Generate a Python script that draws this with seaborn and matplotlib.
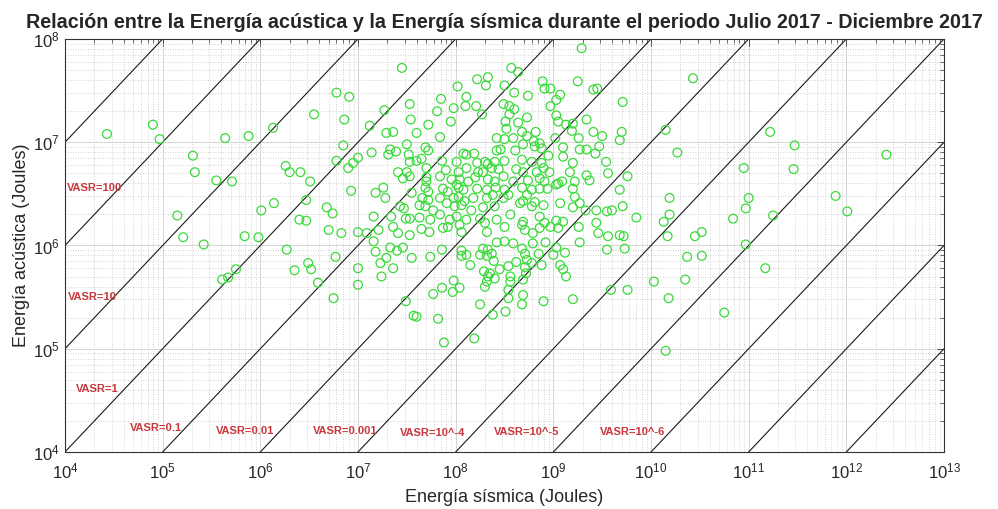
import numpy as np
import pandas as pd
import matplotlib
matplotlib.use("Agg")
import matplotlib.pyplot as plt
import seaborn as sns
from matplotlib.ticker import LogLocator, LogFormatterSciNotation, NullFormatter

# Events: log10 of the seismic energy and of the acoustic energy (Joules)
seismic_log10 = [
    4.43, 4.90, 4.97, 5.31, 5.33, 5.55, 5.71, 5.64, 5.88, 6.13, 6.55, 6.78, 6.91, 6.86, 6.85, 6.78,
    6.90, 6.95, 7.00, 6.93, 6.26, 6.30, 6.41, 6.51, 6.47, 6.01, 6.14, 5.15, 5.21, 5.42, 5.84, 5.98,
    6.40, 6.47, 6.68, 6.74, 6.70, 6.83, 7.00,
    6.27, 6.35, 6.49, 6.52, 6.59, 6.77, 6.75, 7.00, 7.00, 5.61, 5.67, 5.75,
    9.29, 7.45, 8.57, 8.64, 8.22, 8.33, 8.31, 8.50, 8.89, 9.25, 8.91, 8.97, 9.41, 9.45, 8.02, 8.11,
    7.85, 8.60, 8.74, 9.07, 9.03,
    7.27, 7.53, 8.10, 8.21, 8.49, 8.55, 8.60, 8.97, 9.71,
    7.81, 7.98, 8.27, 8.55, 8.73, 9.03, 9.05, 9.34,
    7.54, 7.95, 7.72, 8.51, 8.64, 9.13, 9.20, 7.12, 9.19,
    7.29, 7.36, 7.60, 7.84, 8.52, 8.68, 8.82, 9.41, 9.70, 9.50, 9.68,
    8.42, 8.50, 8.59, 8.73, 8.80, 8.86, 9.02, 9.26, 7.50, 8.69,
    7.33, 7.39, 7.69, 7.72, 8.08, 8.11, 8.19, 8.42, 8.46, 8.61, 8.81, 8.88, 9.10, 9.27, 9.34, 9.43, 9.47,
    7.14, 7.31, 7.52, 7.53, 7.60, 7.65, 7.86, 8.01, 8.22, 8.30, 8.33, 8.40, 8.50, 8.68, 8.78, 8.88,
    8.95, 9.10, 9.20, 9.54,
    7.41, 7.50, 7.70, 7.90, 8.03, 8.11, 8.23, 8.28, 8.37, 8.44, 8.62, 8.69, 8.83, 8.90, 8.96, 9.17,
    9.34, 9.56, 9.76,
    7.46, 7.53, 7.70, 7.70, 7.84, 7.96, 8.01, 8.04, 8.13, 8.20, 8.33, 8.40, 8.49, 8.59, 8.74, 8.86,
    8.91, 9.05, 9.09, 9.22, 9.37,
    7.26, 7.18, 7.55, 7.69, 7.72, 7.87, 7.92, 8.03, 8.08, 8.22, 8.32, 8.41, 8.50, 8.68, 8.78, 8.86,
    8.94, 9.03, 9.20, 9.68,
    7.28, 7.66, 7.72, 7.84, 7.98, 8.03, 8.09, 8.18, 8.32, 8.38, 8.49, 8.54, 8.69, 8.73, 8.81, 9.22,
    7.43, 7.47, 7.63, 7.69, 7.77, 7.91, 7.99, 8.06, 8.16, 8.28, 8.40, 8.66, 8.78, 8.90, 9.07, 9.20,
    9.27, 9.33, 9.44, 9.55, 9.60, 9.71,
    7.16, 7.34, 7.49, 7.53, 7.63, 7.74, 7.84, 7.94, 8.01, 8.11, 8.25, 8.42, 8.56, 8.69, 8.86, 8.91,
    9.03, 9.10, 9.44, 9.85,
    7.09, 7.21, 7.36, 7.41, 7.53, 7.65, 7.73, 7.87, 7.92, 8.04, 8.06, 8.30, 8.32, 8.50, 8.68, 8.71,
    8.79, 8.86, 8.97, 9.05, 9.26, 9.46, 9.56, 9.68, 9.72,
    7.16, 7.33, 7.40, 7.46, 7.18, 7.29, 7.23, 7.36, 7.24, 7.55, 7.74, 7.86, 8.06, 8.11, 8.06, 8.25,
    8.28, 8.33, 8.32, 8.37, 8.39, 8.42, 8.50, 8.59,
    8.15, 8.29, 8.35, 8.45, 8.54, 8.62, 8.68, 8.71, 8.73, 8.71, 8.78, 8.85, 8.88, 9.00, 9.03, 9.12,
    9.07, 9.10, 8.79, 8.92, 9.27, 9.55, 9.73,
    8.33, 8.40, 8.32, 8.30, 8.56, 8.56, 8.69, 8.72, 9.13, 7.98, 8.04, 7.97, 7.86, 7.77, 8.54, 8.54,
    8.69, 8.68, 8.90, 9.20, 9.59, 9.76, 7.49, 8.25, 7.57, 7.60, 7.82, 8.38, 8.51, 8.19, 7.88,
    10.43, 10.15, 10.27, 11.22, 11.47, 12.41, 10.95, 11.46, 10.19, 11.00, 10.97, 11.89, 12.01, 10.19,
    10.13, 10.84, 11.25, 10.17, 10.45, 10.52, 10.97,
    10.37, 10.52, 11.17, 10.03, 10.35, 10.18, 10.75, 10.15,
]
acoustic_log10 = [
    7.08, 7.17, 7.03, 6.87, 6.71, 6.63, 6.62, 7.04, 7.06, 7.14, 7.27, 7.48, 7.44, 7.22, 6.97, 6.82,
    6.75, 6.80, 6.85, 6.53, 6.77, 6.71, 6.71, 6.62, 6.44, 6.34, 6.41, 6.29, 6.08, 6.01, 6.09, 6.08,
    6.25, 6.24, 6.37, 6.31, 6.15, 6.12, 6.13,
    5.96, 5.76, 5.83, 5.77, 5.64, 5.89, 5.49, 5.78, 5.62, 5.67, 5.69, 5.77,
    7.91, 7.72, 7.72, 7.68, 7.61, 7.63, 7.55, 7.55, 7.59, 7.59, 7.52, 7.52, 7.51, 7.52, 7.54, 7.44,
    7.42, 7.48, 7.45, 7.46, 7.41,
    7.31, 7.37, 7.35, 7.35, 7.37, 7.35, 7.32, 7.35, 7.39,
    7.30, 7.33, 7.27, 7.27, 7.24, 7.26, 7.20, 7.22,
    7.22, 7.20, 7.17, 7.20, 7.19, 7.17, 7.18, 7.16, 7.11,
    7.09, 7.10, 7.09, 7.05, 7.13, 7.10, 7.10, 7.10, 7.10, 7.06, 7.02,
    7.04, 7.03, 7.04, 7.06, 7.01, 6.99, 7.04, 7.04, 6.98, 6.98,
    6.93, 6.91, 6.95, 6.92, 6.89, 6.88, 6.89, 6.92, 6.93, 6.92, 6.96, 6.94, 6.95, 6.93, 6.93, 6.89, 6.96,
    6.90, 6.88, 6.88, 6.81, 6.82, 6.84, 6.82, 6.81, 6.80, 6.81, 6.79, 6.81, 6.82, 6.83, 6.81, 6.80,
    6.87, 6.86, 6.80, 6.81,
    6.71, 6.71, 6.75, 6.73, 6.71, 6.75, 6.71, 6.71, 6.75, 6.74, 6.74, 6.71, 6.71, 6.75, 6.71, 6.71,
    6.68, 6.70, 6.67,
    6.65, 6.67, 6.66, 6.62, 6.67, 6.64, 6.59, 6.64, 6.62, 6.66, 6.64, 6.62, 6.67, 6.62, 6.63, 6.65,
    6.62, 6.60, 6.62, 6.62, 6.63,
    6.56, 6.51, 6.51, 6.56, 6.52, 6.55, 6.52, 6.56, 6.54, 6.55, 6.54, 6.56, 6.54, 6.56, 6.54, 6.55,
    6.55, 6.59, 6.55, 6.54,
    6.46, 6.46, 6.44, 6.46, 6.46, 6.47, 6.43, 6.46, 6.46, 6.49, 6.46, 6.49, 6.43, 6.49, 6.42, 6.47,
    6.38, 6.36, 6.39, 6.38, 6.34, 6.41, 6.38, 6.39, 6.34, 6.37, 6.38, 6.41, 6.38, 6.39, 6.41, 6.37,
    6.41, 6.34, 6.34, 6.33, 6.34, 6.38,
    6.28, 6.28, 6.26, 6.26, 6.27, 6.25, 6.30, 6.25, 6.28, 6.25, 6.26, 6.25, 6.30, 6.23, 6.28, 6.22,
    6.24, 6.23, 6.22, 6.27,
    6.12, 6.15, 6.18, 6.12, 6.10, 6.16, 6.13, 6.17, 6.18, 6.20, 6.13, 6.22, 6.13, 6.18, 6.20, 6.15,
    6.12, 6.17, 6.18, 6.17, 6.18, 6.12, 6.09, 6.10, 6.09,
    6.04, 5.98, 5.95, 5.98, 5.94, 5.88, 5.83, 5.78, 5.70, 5.88, 5.89, 5.96, 5.95, 5.91, 5.90, 5.91,
    5.97, 5.96, 5.90, 5.92, 5.85, 6.03, 6.04, 6.02,
    5.81, 5.75, 5.73, 5.77, 5.80, 5.84, 5.97, 5.92, 5.86, 5.79, 5.83, 5.92, 5.81, 5.91, 5.98, 5.93,
    5.81, 5.77, 6.02, 6.03, 6.03, 5.96, 5.97,
    5.70, 5.68, 5.65, 5.60, 5.70, 5.65, 5.67, 5.73, 5.70, 5.66, 5.59, 5.55, 5.59, 5.53, 5.57, 5.49,
    5.52, 5.43, 5.46, 5.48, 5.57, 5.57, 5.46, 5.43, 5.32, 5.31, 5.29, 5.33, 5.36, 5.10, 5.06,
    7.62, 7.12, 6.90, 7.10, 6.97, 6.88, 6.75, 6.74, 6.46, 6.46, 6.36, 6.48, 6.33, 6.30,
    6.23, 6.26, 6.29, 6.09, 6.09, 6.13, 6.01,
    5.89, 5.90, 5.78, 5.65, 5.67, 5.49, 5.35, 4.98,
]

# Reference lines of constant acoustic/seismic ratio, VASR = 10**k
vasr_exponents = [3, 2, 1, 0, -1, -2, -3, -4, -5, -6, -7, -8]
vasr_labels = ["VASR=100", "VASR=10", "VASR=1", "VASR=0.1", "VASR=0.01",
               "VASR=0.001", "VASR=10^-4", "VASR=10^-5", "VASR=10^-6"]
# where each label sits (log10 seismic, log10 acoustic)
label_anchor = [(4.02, 6.56), (4.03, 5.50), (4.11, 4.61), (4.66, 4.23), (5.55, 4.20),
                (6.54, 4.20), (7.43, 4.18), (8.39, 4.19), (9.48, 4.19)]

x_decades = list(range(4, 14))
y_decades = list(range(4, 9))

sns.set_style("white")
plt.rcParams["font.family"] = ["Liberation Sans", "DejaVu Sans"]
plt.rcParams["mathtext.fontset"] = "custom"
plt.rcParams["mathtext.rm"] = "Liberation Sans"
plt.rcParams["mathtext.it"] = "Liberation Sans"
plt.rcParams["mathtext.default"] = "regular"

fig = plt.figure(figsize=(9.98, 5.09), dpi=100)
fig.subplots_adjust(left=0.0651, right=0.9459, top=0.9234, bottom=0.1120)
ax = fig.add_subplot(111)
ax.set_xscale("log")
ax.set_yscale("log")

x_range = (10.0 ** x_decades[0], 10.0 ** x_decades[-1])
y_range = (10.0 ** y_decades[0], 10.0 ** y_decades[-1])

# constant-ratio lines
for k in vasr_exponents:
    xs = np.array(x_range)
    ax.plot(xs, (10.0 ** k) * xs, color="#1a1a1a", lw=0.8, zorder=2)

events = pd.DataFrame({
    "seismic": 10.0 ** np.array(seismic_log10),
    "acoustic": 10.0 ** np.array(acoustic_log10),
})
sns.scatterplot(data=events, x="seismic", y="acoustic", ax=ax, marker="o", s=40,
                facecolor="none", edgecolor="#3ada3a", linewidth=0.9, zorder=3,
                legend=False)

for text, (lx, ly) in zip(vasr_labels, label_anchor):
    ax.text(10.0 ** lx, 10.0 ** ly, text, color="#c8373c", fontsize=8,
            fontweight="bold", ha="left", va="center", zorder=4)

ax.set_xlim(*x_range)
ax.set_ylim(*y_range)
ax.set_xticks(10.0 ** np.array(x_decades))
ax.set_yticks(10.0 ** np.array(y_decades))
ax.xaxis.set_minor_locator(LogLocator(base=10, subs=np.arange(2, 10), numticks=200))
ax.yaxis.set_minor_locator(LogLocator(base=10, subs=np.arange(2, 10), numticks=200))
ax.xaxis.set_major_formatter(LogFormatterSciNotation())
ax.yaxis.set_major_formatter(LogFormatterSciNotation())
ax.xaxis.set_minor_formatter(NullFormatter())
ax.yaxis.set_minor_formatter(NullFormatter())
ax.set_xlim(*x_range)
ax.set_ylim(*y_range)

ax.grid(True, which="major", color="#cfcfcf", lw=0.6, ls="-")
ax.grid(True, which="minor", color="#c4c4c4", lw=0.6, ls=(0, (1, 2)))
ax.set_axisbelow(True)

ax.tick_params(which="both", direction="in", top=True, right=True, color="#333333")
ax.tick_params(which="major", length=5, width=0.6, labelsize=12, labelcolor="#262626")
ax.tick_params(which="minor", length=3, width=0.5)
ax.tick_params(axis="x", which="major", pad=7)
ax.tick_params(axis="y", which="major", pad=4)
for sp in ax.spines.values():
    sp.set_color("#333333")
    sp.set_linewidth(0.8)

ax.set_title("Relación entre la Energía acústica y la Energía sísmica durante el periodo "
             "Julio 2017 - Diciembre 2017", fontsize=14.2, fontweight="bold", pad=8)
ax.set_xlabel("Energía sísmica (Joules)", fontsize=13, color="#262626")
ax.set_ylabel("Energía acústica (Joules)", fontsize=13, color="#262626")
ax.xaxis.set_label_coords(0.5, -0.09)
ax.yaxis.set_label_coords(-0.04, 0.5)

fig.savefig("out.png", dpi=100)
